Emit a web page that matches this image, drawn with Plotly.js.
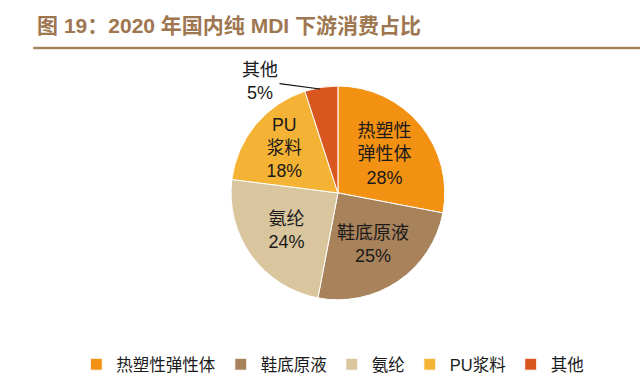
<!DOCTYPE html>
<html><head><meta charset="utf-8">
<script src="https://cdn.plot.ly/plotly-3.0.1.min.js"></script>
<style>html,body{margin:0;padding:0;background:#fff}#c{width:640px;height:382px}</style>
</head><body><div id="c"></div>
<script>
const categories = ['热塑性弹性体', '鞋底原液', '氨纶', 'PU浆料', '其他'];
const sliceLabels = ['热塑性<br>弹性体', '鞋底原液', '氨纶', 'PU<br>浆料', '其他'];
const values = [28, 25, 24, 18, 5];
const colors = ['#F29112', '#A8825A', '#D9C59E', '#F5B335', '#D9561E'];

const font = '"Liberation Sans", Arial, "Noto Sans CJK SC", sans-serif';
const texts = values.map((v, i) => i < 4 ? sliceLabels[i] + '<br>' + v + '%' : '');

const trace = {
  type: 'pie',
  labels: categories,
  values: values,
  text: texts,
  textinfo: 'text',
  hoverinfo: 'label+percent',
  sort: false,
  direction: 'clockwise',
  rotation: 0,
  marker: {colors: colors, line: {color: '#ffffff', width: 1}},
  textposition: 'inside',
  insidetextorientation: 'horizontal',
  insidetextfont: {family: font, size: 18, color: '#1a1a1a'},
  domain: {x: [0.361, 0.695], y: [0.215, 0.775]}
};

const layout = {
  width: 640, height: 382,
  margin: {l: 0, r: 0, t: 0, b: 0},
  paper_bgcolor: '#ffffff',
  plot_bgcolor: '#ffffff',
  showlegend: true,
  title: {
    text: '<b>图 19：2020 年国内纯 MDI 下游消费占比</b>',
    font: {family: font, size: 21, color: '#9E7650'},
    x: 0.058, xanchor: 'left', xref: 'paper',
    y: 0.932, yanchor: 'middle', yref: 'container'
  },
  legend: {
    orientation: 'h', x: 0.52, xanchor: 'center', y: 0.0, yanchor: 'bottom',
    font: {family: font, size: 16.5, color: '#1a1a1a'},
    itemwidth: 30, traceorder: 'normal'
  },
  shapes: [{
    type: 'line', xref: 'paper', yref: 'paper',
    x0: 0.052, x1: 1, y0: 1 - 48/382, y1: 1 - 48/382,
    line: {color: '#A4805C', width: 2.5}
  }],
  annotations: [{
    xref: 'paper', yref: 'paper',
    x: 0.5, y: 1 - 89/382,
    ax: -60, ay: -8,
    text: '其他<br>5%',
    showarrow: true, arrowhead: 0, arrowwidth: 1.2, arrowcolor: '#111111',
    font: {family: font, size: 18, color: '#1a1a1a'},
    xanchor: 'center'
  }]
};

Plotly.newPlot('c', [trace], layout, {displayModeBar: false, staticPlot: true});
</script></body></html>
